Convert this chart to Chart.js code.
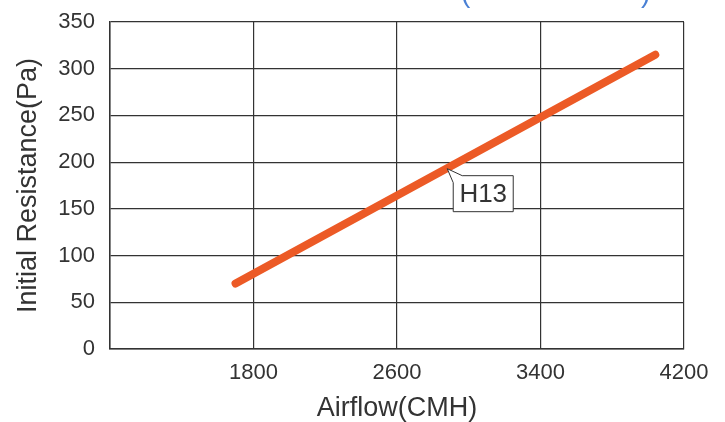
<!DOCTYPE html>
<html>
<head>
<meta charset="utf-8">
<script src="https://cdn.jsdelivr.net/npm/chart.js@4.4.0/dist/chart.umd.min.js"></script>
<style>
  body { margin: 0; background: #fff; }
  #myChart { display: block; }
</style>
</head>
<body>
<canvas id="myChart" width="725" height="422"></canvas>
<script>
// values
const airflow = [1700, 4040];
const resistance = [70, 315];
const xTicks = [1800, 2600, 3400, 4200];
const labelText = "H13";
const labelPoint = [2880, 193];

const ink = "#333333";
const orange = "#ec5a26";

// callout box "H13" pointing at the line
const callout = {
  id: "callout",
  afterDatasetsDraw(chart) {
    const c = chart.ctx;
    const px = chart.scales.x.getPixelForValue(labelPoint[0]);
    const py = chart.scales.y.getPixelForValue(labelPoint[1]);
    const l = px + 6, t = py + 7, w = 60, h = 36;
    c.save();
    c.beginPath();
    c.moveTo(px, py);
    c.lineTo(l + 9, t);
    c.lineTo(l + w, t);
    c.lineTo(l + w, t + h);
    c.lineTo(l, t + h);
    c.lineTo(l, t + 7);
    c.closePath();
    c.fillStyle = "#fff";
    c.fill();
    c.strokeStyle = ink;
    c.lineWidth = 1;
    c.stroke();
    c.fillStyle = ink;
    c.font = "26px 'Liberation Sans', Arial";
    c.textAlign = "center";
    c.textBaseline = "middle";
    c.fillText(labelText, l + w / 2, t + h / 2 + 1);
    c.restore();
  }
};

// cut-off blue brackets at the top edge
const topText = {
  id: "topText",
  afterDraw(chart) {
    const c = chart.ctx;
    c.save();
    c.fillStyle = "#4a80d4";
    c.font = "28px 'Liberation Sans', Arial";
    c.textBaseline = "alphabetic";
    c.fillText("(", 461, 2);
    c.fillText(")", 641, 2);
    c.restore();
  }
};

new Chart(document.getElementById("myChart"), {
  type: "scatter",
  data: {
    datasets: [
      {
        label: labelText,
        data: airflow.map((x, i) => ({ x: x, y: resistance[i] })),
        showLine: true,
        borderColor: orange,
        borderWidth: 8,
        borderCapStyle: "round",
        pointRadius: 0,
      },
    ],
  },
  options: {
    responsive: false,
    animation: false,
    layout: { padding: { top: 22, right: 41, left: 0, bottom: 0 } },
    plugins: {
      legend: { display: false },
      tooltip: { enabled: false },
    },
    scales: {
      x: {
        type: "linear",
        min: 1000,
        max: 4200,
        afterBuildTicks: (s) => {
          s.ticks = [1000].concat(xTicks).map((v) => ({ value: v }));
        },
        afterFit: (s) => { s.height = 73; s.paddingRight = 0; },
        ticks: {
          color: ink,
          font: { family: "'Liberation Sans', Arial", size: 22 },
          padding: 11,
          maxRotation: 0,
          callback: (v) => (xTicks.includes(v) ? String(v) : ""),
        },
        grid: { color: ink, lineWidth: 1.2, drawTicks: false },
        border: { color: ink, width: 1.5 },
        title: {
          display: true,
          text: "Airflow(CMH)",
          color: ink,
          font: { family: "'Liberation Sans', Arial", size: 27, lineHeight: 1 },
          padding: { top: 0, bottom: 0 },
        },
      },
      y: {
        min: 0,
        max: 350,
        afterFit: (s) => { s.width = 110; s.paddingTop = 0; s.paddingBottom = 0; },
        ticks: {
          stepSize: 50,
          color: ink,
          font: { family: "'Liberation Sans', Arial", size: 22 },
          padding: 15,
        },
        grid: { color: ink, lineWidth: 1.2, drawTicks: false },
        border: { color: ink, width: 1.5 },
        title: {
          display: true,
          text: "Initial Resistance(Pa)",
          color: ink,
          font: { family: "'Liberation Sans', Arial", size: 27, lineHeight: 1 },
          padding: { top: 15, bottom: 0 },
        },
      },
    },
  },
  plugins: [callout, topText],
});
</script>
</body>
</html>
